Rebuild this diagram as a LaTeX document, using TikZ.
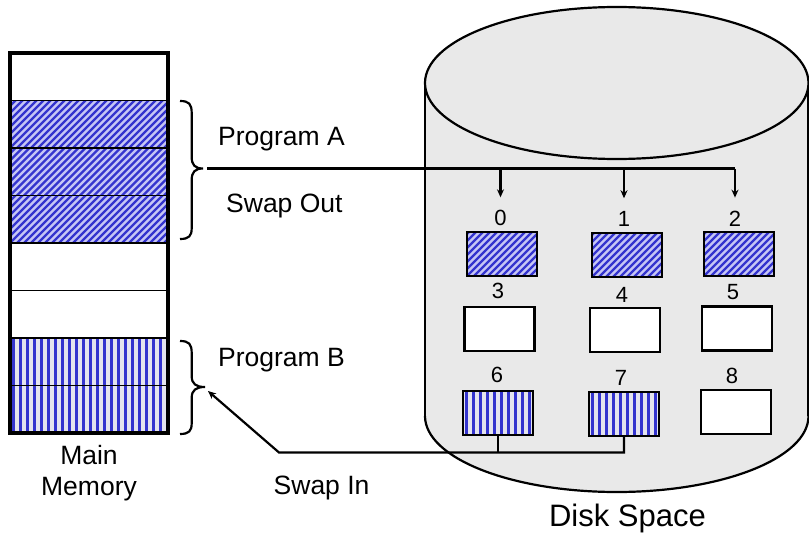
\documentclass[tikz,border=0pt]{standalone}
\usepackage{fontspec}
\setmainfont{Liberation Sans}
\usetikzlibrary{arrows.meta,calc}
\definecolor{hatchblue}{RGB}{52,52,206}
\definecolor{diaglight}{RGB}{198,198,245}
\definecolor{vertlight}{RGB}{228,228,238}
\definecolor{diskgray}{RGB}{233,233,233}
\begin{document}
\begin{tikzpicture}[x=1pt,y=-1pt,
  plaincell/.style={fill=white},
  diagcell/.style={fill=diaglight, path picture={
      \foreach \k in {-20,...,30}
        \draw[hatchblue, line width=2.4pt]
          ([xshift=\k*7pt]path picture bounding box.south west) -- ++(100pt,100pt);}},
  vertcell/.style={fill=vertlight, path picture={
      \foreach \k in {0,...,25}
        \fill[hatchblue]
          ([xshift=\k*7pt+1.5pt]path picture bounding box.south west) rectangle ++(3.5pt,100pt);}},
  memcell/.style={draw, line width=1.6pt, minimum width=158pt, minimum height=47.5pt,
      inner sep=0pt, outer sep=0pt},
  diskbox/.style={draw, line width=2.2pt, minimum width=70pt, minimum height=44pt,
      inner sep=0pt, outer sep=0pt},
  digit/.style={font=\fontsize{22}{22}\selectfont, inner sep=0pt},
  lbl/.style={font=\fontsize{26.5}{30.7}\selectfont, inner sep=0pt, anchor=base west},
  conn/.style={line width=2.2pt},
  arr/.style={line width=2.2pt, -{Stealth[length=8pt,width=7pt]}},
  disk line/.style={line width=2.2pt}]
\useasboundingbox (0,0) rectangle (809,535);

% disk cylinder
\fill[diskgray] (425,83) rectangle (808.5,416);
\fill[diskgray] (616.75,416) ellipse[x radius=191.75, y radius=76];
\begin{scope}
  \clip (400,416) rectangle (830,540);
  \draw[disk line] (616.75,416) ellipse[x radius=191.75, y radius=76];
\end{scope}
\draw[disk line] (425,83) -- (425,416);
\draw[disk line] (808.5,83) -- (808.5,416);
\draw[disk line, fill=diskgray] (616.75,83) ellipse[x radius=191.75, y radius=76];

% main memory column
\node[memcell, plaincell] (m1) at (89,76.75)  {};
\node[memcell, diagcell]  (m2) at (89,124.25) {};
\node[memcell, diagcell]  (m3) at (89,171.75) {};
\node[memcell, diagcell]  (m4) at (89,219.25) {};
\node[memcell, plaincell] (m5) at (89,266.75) {};
\node[memcell, plaincell] (m6) at (89,314.25) {};
\node[memcell, vertcell]  (m7) at (89,361.75) {};
\node[memcell, vertcell]  (m8) at (89,409.25) {};
\draw[line width=3.2pt] (m1.north west) rectangle (m8.south east);

% braces
\coordinate (braceA) at (203,168.5);
\coordinate (braceB) at (205,387);
\draw[conn] (180,101) .. controls (189,101) and (191.7,104) .. (191.7,113)
  -- (191.7,157) .. controls (191.7,165) and (195,168.5) .. (braceA)
  .. controls (195,168.5) and (191.7,172) .. (191.7,180)
  -- (191.7,228) .. controls (191.7,236) and (189,239) .. (180,239);
\draw[conn] (180,341) .. controls (189,341) and (191.7,344) .. (191.7,353)
  -- (191.7,376) .. controls (191.7,384) and (196,387) .. (braceB)
  .. controls (196,387) and (191.7,390) .. (191.7,398)
  -- (191.7,423) .. controls (191.7,431) and (189,434) .. (180,434);

% labels
\node[lbl] (progA) at (218,145) {Program A};
\node[lbl] (swapOut) at (226,212.7) {Swap Out};
\node[lbl] (progB) at (218,366) {Program B};
\node[lbl] (swapIn) at (273.5,494.3) {Swap In};
\node[lbl, anchor=base, align=center] (mainMem) at (89,495) {Main\\Memory};
\node[font=\fontsize{31}{31}\selectfont, inner sep=0pt, anchor=base] (diskLbl) at (627.5,526.5) {Disk Space};

% disk blocks
\node[diskbox, diagcell]  (b0) at (502,254)   {};
\node[diskbox, diagcell]  (b1) at (627,255)   {};
\node[diskbox, diagcell]  (b2) at (739,254)   {};
\node[diskbox, plaincell] (b3) at (499.5,329) {};
\node[diskbox, plaincell] (b4) at (625,330)   {};
\node[diskbox, plaincell] (b5) at (737,328.5) {};
\node[diskbox, vertcell]  (b6) at (498,413)   {};
\node[diskbox, vertcell]  (b7) at (624,414)   {};
\node[diskbox, plaincell] (b8) at (736,412)   {};

% block numbers
\node[digit] (d0) at (500.5,218.3) {0};
\node[digit] (d1) at (624,219)     {1};
\node[digit] (d2) at (735,218.5)   {2};
\node[digit] (d3) at (498,291)     {3};
\node[digit] (d4) at (622,294.7)   {4};
\node[digit] (d5) at (733,292.5)   {5};
\node[digit] (d6) at (497,375)     {6};
\node[digit] (d7) at (621,378)     {7};
\node[digit] (d8) at (732,376)     {8};

% swap out
\draw[conn] ([xshift=4pt]braceA) -- (braceA -| d2);
\draw[arr] (braceA -| d0) -- ([yshift=13pt]d0.north);
\draw[arr] (braceA -| d1) -- ([yshift=13pt]d1.north);
\draw[arr] (braceA -| d2) -- ([yshift=13pt]d2.north);

% swap in
\coordinate (inTurn) at (279,452.5);
\draw[conn] (b6.south) -- (b6.south |- inTurn);
\draw[arr] (b7.south) -- (b7.south |- inTurn) -- (inTurn) -- ([shift={(3pt,-4pt)}]braceB);
\end{tikzpicture}
\end{document}
